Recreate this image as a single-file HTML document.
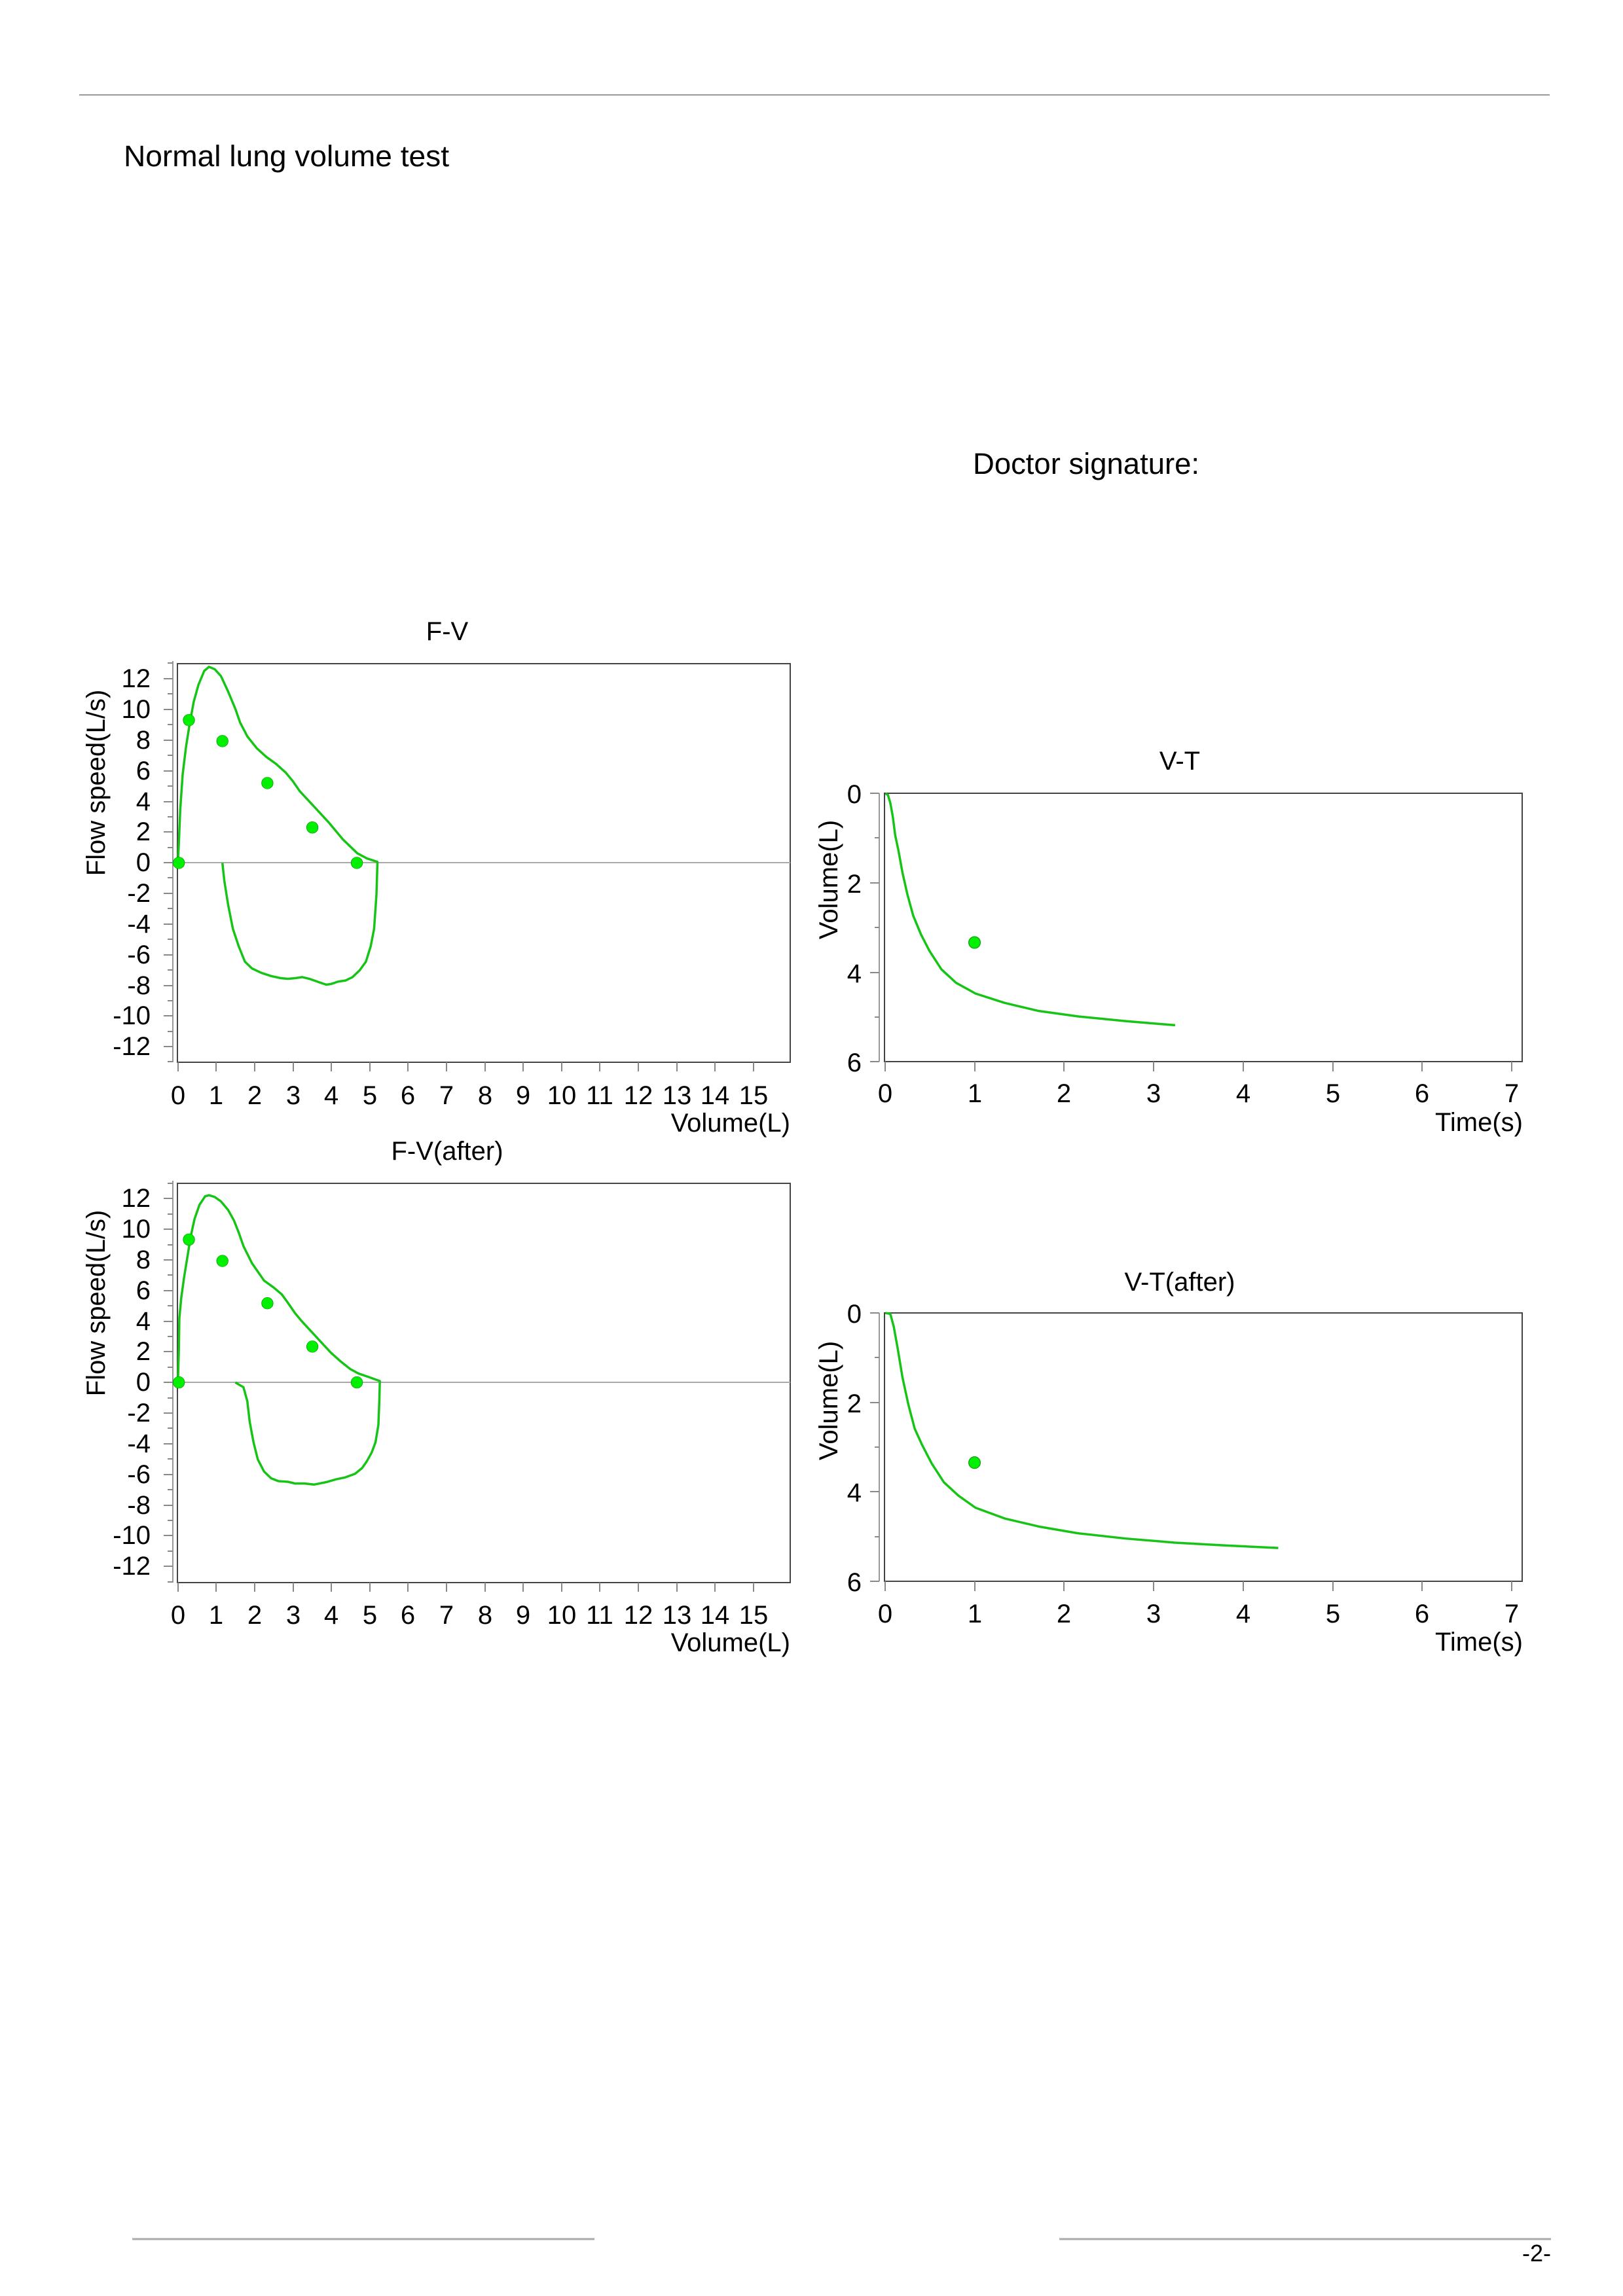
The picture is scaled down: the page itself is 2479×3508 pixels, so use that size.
<!DOCTYPE html>
<html><head><meta charset="utf-8"><style>
html,body{margin:0;padding:0;background:#fff;}
svg{display:block;}
text{font-family:"Liberation Sans","DejaVu Sans",sans-serif;fill:#000;}
</style></head><body>
<svg width="2479" height="3508" viewBox="0 0 2479 3508" xmlns="http://www.w3.org/2000/svg">
<line x1="121" y1="145" x2="2367" y2="145" stroke="#999" stroke-width="2"/>
<text x="189" y="254" font-size="45" textLength="497" lengthAdjust="spacingAndGlyphs">Normal lung volume test</text>
<text x="1486" y="724" font-size="45" textLength="346" lengthAdjust="spacingAndGlyphs">Doctor signature:</text>
<line x1="202" y1="3421" x2="908" y2="3421" stroke="#aaa" stroke-width="3"/>
<line x1="1618" y1="3421" x2="2369" y2="3421" stroke="#aaa" stroke-width="3"/>
<text x="2369" y="3455" font-size="36" text-anchor="end">-2-</text>

<!-- Chart 1 F-V -->
<g>
<text x="683" y="978" font-size="40" text-anchor="middle">F-V</text>
<rect x="271" y="1014" width="936" height="609" fill="none" stroke="#444" stroke-width="2"/>
<line x1="264" y1="1010" x2="264" y2="1623" stroke="#999" stroke-width="2"/>
<line x1="271" y1="1318" x2="1207" y2="1318" stroke="#aaa" stroke-width="2"/>
<g stroke="#888" stroke-width="2">
<line x1="250" y1="1037" x2="264" y2="1037"/><line x1="250" y1="1084" x2="264" y2="1084"/><line x1="250" y1="1131" x2="264" y2="1131"/><line x1="250" y1="1178" x2="264" y2="1178"/><line x1="250" y1="1225" x2="264" y2="1225"/><line x1="250" y1="1271" x2="264" y2="1271"/><line x1="250" y1="1318" x2="264" y2="1318"/><line x1="250" y1="1365" x2="264" y2="1365"/><line x1="250" y1="1412" x2="264" y2="1412"/><line x1="250" y1="1459" x2="264" y2="1459"/><line x1="250" y1="1506" x2="264" y2="1506"/><line x1="250" y1="1552" x2="264" y2="1552"/><line x1="250" y1="1599" x2="264" y2="1599"/>
<line x1="256" y1="1013" x2="264" y2="1013"/><line x1="256" y1="1060" x2="264" y2="1060"/><line x1="256" y1="1107" x2="264" y2="1107"/><line x1="256" y1="1154" x2="264" y2="1154"/><line x1="256" y1="1201" x2="264" y2="1201"/><line x1="256" y1="1248" x2="264" y2="1248"/><line x1="256" y1="1295" x2="264" y2="1295"/><line x1="256" y1="1341" x2="264" y2="1341"/><line x1="256" y1="1388" x2="264" y2="1388"/><line x1="256" y1="1435" x2="264" y2="1435"/><line x1="256" y1="1482" x2="264" y2="1482"/><line x1="256" y1="1529" x2="264" y2="1529"/><line x1="256" y1="1576" x2="264" y2="1576"/><line x1="256" y1="1622" x2="264" y2="1622"/>
<line x1="272" y1="1623" x2="272" y2="1637"/><line x1="330" y1="1623" x2="330" y2="1637"/><line x1="389" y1="1623" x2="389" y2="1637"/><line x1="448" y1="1623" x2="448" y2="1637"/><line x1="506" y1="1623" x2="506" y2="1637"/><line x1="565" y1="1623" x2="565" y2="1637"/><line x1="623" y1="1623" x2="623" y2="1637"/><line x1="682" y1="1623" x2="682" y2="1637"/><line x1="741" y1="1623" x2="741" y2="1637"/><line x1="799" y1="1623" x2="799" y2="1637"/><line x1="858" y1="1623" x2="858" y2="1637"/><line x1="916" y1="1623" x2="916" y2="1637"/><line x1="975" y1="1623" x2="975" y2="1637"/><line x1="1034" y1="1623" x2="1034" y2="1637"/><line x1="1092" y1="1623" x2="1092" y2="1637"/><line x1="1151" y1="1623" x2="1151" y2="1637"/>
</g>
<g font-size="40" text-anchor="end" dominant-baseline="central">
<text x="230" y="1037">12</text><text x="230" y="1084">10</text><text x="230" y="1131">8</text><text x="230" y="1178">6</text><text x="230" y="1225">4</text><text x="230" y="1271">2</text><text x="230" y="1318">0</text><text x="230" y="1365">-2</text><text x="230" y="1412">-4</text><text x="230" y="1459">-6</text><text x="230" y="1506">-8</text><text x="230" y="1552">-10</text><text x="230" y="1599">-12</text>
</g>
<g font-size="40" text-anchor="middle" dominant-baseline="central">
<text x="272" y="1674">0</text><text x="330" y="1674">1</text><text x="389" y="1674">2</text><text x="448" y="1674">3</text><text x="506" y="1674">4</text><text x="565" y="1674">5</text><text x="623" y="1674">6</text><text x="682" y="1674">7</text><text x="741" y="1674">8</text><text x="799" y="1674">9</text><text x="858" y="1674">10</text><text x="916" y="1674">11</text><text x="975" y="1674">12</text><text x="1034" y="1674">13</text><text x="1092" y="1674">14</text><text x="1151" y="1674">15</text>
</g>
<text x="1207" y="1716" font-size="40" text-anchor="end" dominant-baseline="central">Volume(L)</text>
<text transform="translate(147,1196) rotate(-90)" font-size="40" text-anchor="middle" dominant-baseline="central">Flow speed(L/s)</text>
<g transform="translate(100,920) scale(0.7308,0.5256)">
<polyline fill="none" stroke="#16c416" stroke-width="3.5" vector-effect="non-scaling-stroke" stroke-linejoin="round" points="328,758 332,810 340,880 350,950 362,1000 375,1045 390,1065 410,1078 430,1087 450,1093 465,1095 480,1093 495,1090 510,1095 530,1105 545,1112 555,1110 570,1103 585,1100 600,1090 615,1070 628,1045 638,1000 645,950 650,850 652,758 652,755 630,745 610,730 595,710 580,690 565,665 550,640 530,610 510,580 490,550 475,520 460,495 440,470 420,450 400,425 380,390 365,350 355,310 340,260 325,215 312,195 300,188 290,200 278,240 268,290 260,350 252,420 245,500 240,600 237,700 235,758"/>
<g fill="#00f000" stroke="#0a8a0a" stroke-width="1" vector-effect="non-scaling-stroke">
<ellipse cx="237" cy="758" rx="12" ry="17"/><ellipse cx="258" cy="343" rx="12" ry="17"/><ellipse cx="328" cy="404" rx="12" ry="17"/><ellipse cx="422" cy="526" rx="12" ry="17"/><ellipse cx="516" cy="655" rx="12" ry="17"/><ellipse cx="609" cy="758" rx="12" ry="17"/>
</g>
</g>
</g>

<!-- Chart 3 F-V(after) -->
<g>
<text x="683" y="1772" font-size="40" text-anchor="middle">F-V(after)</text>
<rect x="271" y="1808" width="936" height="610" fill="none" stroke="#444" stroke-width="2"/>
<line x1="264" y1="1804" x2="264" y2="2418" stroke="#999" stroke-width="2"/>
<line x1="271" y1="2112" x2="1207" y2="2112" stroke="#aaa" stroke-width="2"/>
<g stroke="#888" stroke-width="2">
<line x1="250" y1="1831" x2="264" y2="1831"/><line x1="250" y1="1878" x2="264" y2="1878"/><line x1="250" y1="1925" x2="264" y2="1925"/><line x1="250" y1="1972" x2="264" y2="1972"/><line x1="250" y1="2019" x2="264" y2="2019"/><line x1="250" y1="2065" x2="264" y2="2065"/><line x1="250" y1="2112" x2="264" y2="2112"/><line x1="250" y1="2159" x2="264" y2="2159"/><line x1="250" y1="2206" x2="264" y2="2206"/><line x1="250" y1="2253" x2="264" y2="2253"/><line x1="250" y1="2300" x2="264" y2="2300"/><line x1="250" y1="2346" x2="264" y2="2346"/><line x1="250" y1="2393" x2="264" y2="2393"/>
<line x1="256" y1="1808" x2="264" y2="1808"/><line x1="256" y1="1855" x2="264" y2="1855"/><line x1="256" y1="1902" x2="264" y2="1902"/><line x1="256" y1="1948" x2="264" y2="1948"/><line x1="256" y1="1995" x2="264" y2="1995"/><line x1="256" y1="2042" x2="264" y2="2042"/><line x1="256" y1="2089" x2="264" y2="2089"/><line x1="256" y1="2136" x2="264" y2="2136"/><line x1="256" y1="2182" x2="264" y2="2182"/><line x1="256" y1="2229" x2="264" y2="2229"/><line x1="256" y1="2276" x2="264" y2="2276"/><line x1="256" y1="2323" x2="264" y2="2323"/><line x1="256" y1="2370" x2="264" y2="2370"/><line x1="256" y1="2417" x2="264" y2="2417"/>
<line x1="272" y1="2418" x2="272" y2="2432"/><line x1="330" y1="2418" x2="330" y2="2432"/><line x1="389" y1="2418" x2="389" y2="2432"/><line x1="448" y1="2418" x2="448" y2="2432"/><line x1="506" y1="2418" x2="506" y2="2432"/><line x1="565" y1="2418" x2="565" y2="2432"/><line x1="623" y1="2418" x2="623" y2="2432"/><line x1="682" y1="2418" x2="682" y2="2432"/><line x1="741" y1="2418" x2="741" y2="2432"/><line x1="799" y1="2418" x2="799" y2="2432"/><line x1="858" y1="2418" x2="858" y2="2432"/><line x1="916" y1="2418" x2="916" y2="2432"/><line x1="975" y1="2418" x2="975" y2="2432"/><line x1="1034" y1="2418" x2="1034" y2="2432"/><line x1="1092" y1="2418" x2="1092" y2="2432"/><line x1="1151" y1="2418" x2="1151" y2="2432"/>
</g>
<g font-size="40" text-anchor="end" dominant-baseline="central">
<text x="230" y="1831">12</text><text x="230" y="1878">10</text><text x="230" y="1925">8</text><text x="230" y="1972">6</text><text x="230" y="2019">4</text><text x="230" y="2065">2</text><text x="230" y="2112">0</text><text x="230" y="2159">-2</text><text x="230" y="2206">-4</text><text x="230" y="2253">-6</text><text x="230" y="2300">-8</text><text x="230" y="2346">-10</text><text x="230" y="2393">-12</text>
</g>
<g font-size="40" text-anchor="middle" dominant-baseline="central">
<text x="272" y="2468">0</text><text x="330" y="2468">1</text><text x="389" y="2468">2</text><text x="448" y="2468">3</text><text x="506" y="2468">4</text><text x="565" y="2468">5</text><text x="623" y="2468">6</text><text x="682" y="2468">7</text><text x="741" y="2468">8</text><text x="799" y="2468">9</text><text x="858" y="2468">10</text><text x="916" y="2468">11</text><text x="975" y="2468">12</text><text x="1034" y="2468">13</text><text x="1092" y="2468">14</text><text x="1151" y="2468">15</text>
</g>
<text x="1207" y="2510" font-size="40" text-anchor="end" dominant-baseline="central">Volume(L)</text>
<text transform="translate(147,1991) rotate(-90)" font-size="40" text-anchor="middle" dominant-baseline="central">Flow speed(L/s)</text>
<g transform="translate(100,1720) scale(0.7308,0.5256)">
<polyline fill="none" stroke="#16c416" stroke-width="3.5" vector-effect="non-scaling-stroke" stroke-linejoin="round" points="355,746 362,752 372,760 380,800 385,860 393,920 402,970 415,1005 430,1025 445,1033 465,1035 480,1040 500,1040 520,1043 545,1036 565,1028 585,1022 605,1012 620,995 630,975 640,950 648,920 654,870 656,800 657,746 657,742 635,731 612,720 595,707 575,685 555,660 535,630 515,600 495,570 480,545 465,515 452,490 435,470 415,450 390,400 372,350 362,310 352,275 340,245 325,220 312,207 300,202 292,205 280,230 270,270 262,320 255,380 248,440 242,500 238,560 237,650 235,746"/>
<g fill="#00f000" stroke="#0a8a0a" stroke-width="1" vector-effect="non-scaling-stroke">
<ellipse cx="237" cy="746" rx="12" ry="17"/><ellipse cx="258" cy="331" rx="12" ry="17"/><ellipse cx="328" cy="393" rx="12" ry="17"/><ellipse cx="422" cy="516" rx="12" ry="17"/><ellipse cx="516" cy="642" rx="12" ry="17"/><ellipse cx="609" cy="746" rx="12" ry="17"/>
</g>
</g>
</g>

<!-- Chart 2 V-T -->
<g>
<text x="1802" y="1163" font-size="40" text-anchor="middle" dominant-baseline="central">V-T</text>
<rect x="1351" y="1212" width="974" height="410" fill="none" stroke="#444" stroke-width="2"/>
<line x1="1343" y1="1212" x2="1343" y2="1622" stroke="#999" stroke-width="2"/>
<g stroke="#888" stroke-width="2">
<line x1="1329" y1="1212" x2="1343" y2="1212"/><line x1="1336" y1="1280" x2="1343" y2="1280"/><line x1="1329" y1="1349" x2="1343" y2="1349"/><line x1="1336" y1="1417" x2="1343" y2="1417"/><line x1="1329" y1="1486" x2="1343" y2="1486"/><line x1="1336" y1="1554" x2="1343" y2="1554"/><line x1="1329" y1="1622" x2="1343" y2="1622"/>
<line x1="1352" y1="1622" x2="1352" y2="1637"/><line x1="1489" y1="1622" x2="1489" y2="1637"/><line x1="1625" y1="1622" x2="1625" y2="1637"/><line x1="1762" y1="1622" x2="1762" y2="1637"/><line x1="1899" y1="1622" x2="1899" y2="1637"/><line x1="2036" y1="1622" x2="2036" y2="1637"/><line x1="2172" y1="1622" x2="2172" y2="1637"/><line x1="2309" y1="1622" x2="2309" y2="1637"/>
</g>
<g font-size="40" text-anchor="end" dominant-baseline="central">
<text x="1316" y="1214">0</text><text x="1316" y="1351">2</text><text x="1316" y="1488">4</text><text x="1316" y="1624">6</text>
</g>
<g font-size="40" text-anchor="middle" dominant-baseline="central">
<text x="1352" y="1671">0</text><text x="1489" y="1671">1</text><text x="1625" y="1671">2</text><text x="1762" y="1671">3</text><text x="1899" y="1671">4</text><text x="2036" y="1671">5</text><text x="2172" y="1671">6</text><text x="2309" y="1671">7</text>
</g>
<text x="2326" y="1715" font-size="40" text-anchor="end" dominant-baseline="central">Time(s)</text>
<text transform="translate(1266,1344) rotate(-90)" font-size="40" text-anchor="middle" dominant-baseline="central">Volume(L)</text>
<g transform="translate(1200,1120) scale(0.7436,0.4103)">
<polyline fill="none" stroke="#16c416" stroke-width="3.5" vector-effect="non-scaling-stroke" stroke-linejoin="round" points="205,225 210,230 215,260 220,310 225,380 232,440 240,520 250,600 262,680 278,750 295,810 320,880 350,930 390,970 450,1005 520,1035 600,1055 700,1073 800,1088"/>
<ellipse cx="388" cy="780" rx="12" ry="22" fill="#00f000" stroke="#0a8a0a" stroke-width="1" vector-effect="non-scaling-stroke"/>
</g>
</g>

<!-- Chart 4 V-T(after) -->
<g>
<text x="1802" y="1959" font-size="40" text-anchor="middle" dominant-baseline="central">V-T(after)</text>
<rect x="1351" y="2006" width="974" height="410" fill="none" stroke="#444" stroke-width="2"/>
<line x1="1343" y1="2006" x2="1343" y2="2416" stroke="#999" stroke-width="2"/>
<g stroke="#888" stroke-width="2">
<line x1="1329" y1="2006" x2="1343" y2="2006"/><line x1="1336" y1="2074" x2="1343" y2="2074"/><line x1="1329" y1="2143" x2="1343" y2="2143"/><line x1="1336" y1="2211" x2="1343" y2="2211"/><line x1="1329" y1="2279" x2="1343" y2="2279"/><line x1="1336" y1="2348" x2="1343" y2="2348"/><line x1="1329" y1="2416" x2="1343" y2="2416"/>
<line x1="1352" y1="2416" x2="1352" y2="2431"/><line x1="1489" y1="2416" x2="1489" y2="2431"/><line x1="1625" y1="2416" x2="1625" y2="2431"/><line x1="1762" y1="2416" x2="1762" y2="2431"/><line x1="1899" y1="2416" x2="1899" y2="2431"/><line x1="2036" y1="2416" x2="2036" y2="2431"/><line x1="2172" y1="2416" x2="2172" y2="2431"/><line x1="2309" y1="2416" x2="2309" y2="2431"/>
</g>
<g font-size="40" text-anchor="end" dominant-baseline="central">
<text x="1316" y="2008">0</text><text x="1316" y="2145">2</text><text x="1316" y="2281">4</text><text x="1316" y="2418">6</text>
</g>
<g font-size="40" text-anchor="middle" dominant-baseline="central">
<text x="1352" y="2466">0</text><text x="1489" y="2466">1</text><text x="1625" y="2466">2</text><text x="1762" y="2466">3</text><text x="1899" y="2466">4</text><text x="2036" y="2466">5</text><text x="2172" y="2466">6</text><text x="2309" y="2466">7</text>
</g>
<text x="2326" y="2509" font-size="40" text-anchor="end" dominant-baseline="central">Time(s)</text>
<text transform="translate(1266,2140) rotate(-90)" font-size="40" text-anchor="middle" dominant-baseline="central">Volume(L)</text>
<g transform="translate(1200,1920) scale(0.7436,0.4103)">
<polyline fill="none" stroke="#16c416" stroke-width="3.5" vector-effect="non-scaling-stroke" stroke-linejoin="round" points="205,210 215,213 222,260 230,340 240,450 252,550 265,640 280,700 300,770 325,840 355,890 390,935 450,975 520,1005 600,1030 700,1050 800,1065 900,1075 1012,1085"/>
<ellipse cx="388" cy="767" rx="12" ry="22" fill="#00f000" stroke="#0a8a0a" stroke-width="1" vector-effect="non-scaling-stroke"/>
</g>
</g>
</svg>
</body></html>
